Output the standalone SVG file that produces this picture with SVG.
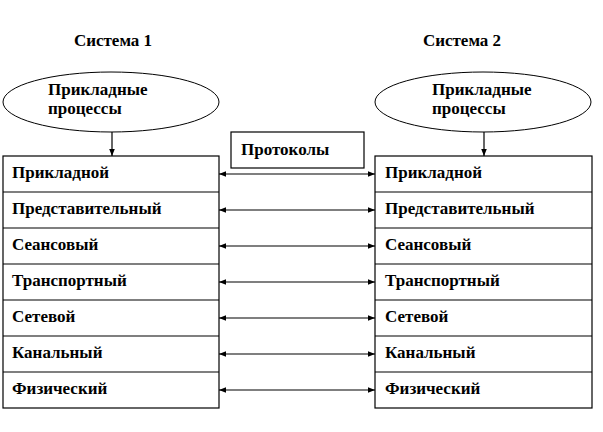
<svg xmlns="http://www.w3.org/2000/svg" width="603" height="432" viewBox="0 0 603 432">
<defs>
<style>
.b{fill:#fff;stroke:#000;stroke-width:1.2}
.l{stroke:#000;stroke-width:1.2;fill:none}
.e{fill:#fff;stroke:#000;stroke-width:1}
</style>
<marker id="a" viewBox="0 0 10 10" refX="10" refY="5" markerWidth="7" markerHeight="7" markerUnits="userSpaceOnUse" orient="auto-start-reverse"><path d="M0,1 L10,5 L0,9 z" fill="#000"/></marker>
</defs>
<rect width="603" height="432" fill="#fff"/>
<g font-family="Liberation Serif, DejaVu Serif, serif" font-weight="bold" font-size="17" fill="#000">
<g id="title1"><text x="113" y="46" text-anchor="middle">Система 1</text></g>
<g id="title2"><text x="462" y="46" text-anchor="middle">Система 2</text></g>
<g id="proc1"><ellipse class="e" cx="111" cy="102" rx="108" ry="30"/><text x="48" y="95">Прикладные</text><text x="48" y="114">процессы</text></g>
<g id="proc2"><ellipse class="e" cx="483" cy="102" rx="108" ry="30"/><text x="432" y="95">Прикладные</text><text x="432" y="114">процессы</text></g>
<g id="protocols"><rect class="b" x="231" y="132" width="133" height="36"/><text x="241" y="155">Протоколы</text></g>
<g id="stack1">
<rect class="b" x="3" y="156" width="216" height="252"/>
<path class="l" d="M3,192H219M3,228H219M3,264H219M3,300H219M3,336H219M3,372H219"/>
<text x="12" y="178">Прикладной</text>
<text x="12" y="214">Представительный</text>
<text x="12" y="250">Сеансовый</text>
<text x="12" y="286">Транспортный</text>
<text x="12" y="322">Сетевой</text>
<text x="12" y="358">Канальный</text>
<text x="12" y="394">Физический</text>
</g>
<g id="stack2">
<rect class="b" x="375" y="156" width="217" height="252"/>
<path class="l" d="M375,192H592M375,228H592M375,264H592M375,300H592M375,336H592M375,372H592"/>
<text x="385" y="178">Прикладной</text>
<text x="385" y="214">Представительный</text>
<text x="385" y="250">Сеансовый</text>
<text x="385" y="286">Транспортный</text>
<text x="385" y="322">Сетевой</text>
<text x="385" y="358">Канальный</text>
<text x="385" y="394">Физический</text>
</g>
</g>
<g id="connectors">
<line class="l" x1="112" y1="132" x2="112" y2="156" marker-end="url(#a)"/>
<line class="l" x1="484" y1="132" x2="484" y2="156" marker-end="url(#a)"/>
<line class="l" x1="219" y1="174" x2="375" y2="174" marker-start="url(#a)" marker-end="url(#a)"/>
<line class="l" x1="219" y1="210" x2="375" y2="210" marker-start="url(#a)" marker-end="url(#a)"/>
<line class="l" x1="219" y1="246" x2="375" y2="246" marker-start="url(#a)" marker-end="url(#a)"/>
<line class="l" x1="219" y1="282" x2="375" y2="282" marker-start="url(#a)" marker-end="url(#a)"/>
<line class="l" x1="219" y1="318" x2="375" y2="318" marker-start="url(#a)" marker-end="url(#a)"/>
<line class="l" x1="219" y1="354" x2="375" y2="354" marker-start="url(#a)" marker-end="url(#a)"/>
<line class="l" x1="219" y1="390" x2="375" y2="390" marker-start="url(#a)" marker-end="url(#a)"/>
</g>
</svg>
